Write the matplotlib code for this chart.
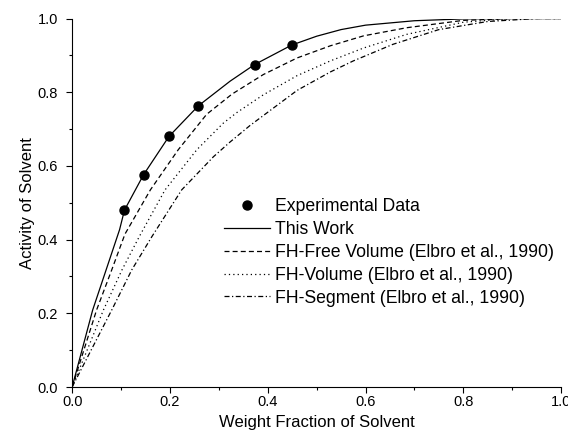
import matplotlib
matplotlib.use("Agg")
import matplotlib.pyplot as plt
from matplotlib.ticker import MultipleLocator

plt.rcParams['font.family'] = ['Liberation Sans', 'DejaVu Sans']

# experimental points
expX = [0.107, 0.146, 0.198, 0.258, 0.373, 0.449]
expY = [0.481, 0.576, 0.680, 0.763, 0.873, 0.927]

# This Work
workX = [0, 0.042, 0.0695, 0.097, 0.107, 0.146, 0.198, 0.258, 0.323, 0.373, 0.449, 0.50, 0.55, 0.60, 0.70, 0.80, 0.90, 1.0]
workY = [0, 0.209, 0.318, 0.427, 0.480, 0.576, 0.680, 0.763, 0.830, 0.875, 0.928, 0.952, 0.970, 0.982, 0.994, 0.999, 1.0, 1.0]

# FH-Free Volume
freeX = [0, 0.050, 0.081, 0.108, 0.160, 0.217, 0.275, 0.327, 0.391, 0.460, 0.528, 0.596, 0.684, 0.80, 0.90, 1.0]
freeY = [0, 0.209, 0.318, 0.415, 0.535, 0.644, 0.740, 0.795, 0.848, 0.893, 0.926, 0.953, 0.975, 0.995, 1.0, 1.0]

# FH-Volume
volX = [0, 0.064, 0.102, 0.138, 0.190, 0.255, 0.309, 0.337, 0.391, 0.460, 0.528, 0.596, 0.684, 0.80, 0.90, 1.0]
volY = [0, 0.209, 0.318, 0.410, 0.535, 0.644, 0.716, 0.745, 0.793, 0.845, 0.885, 0.920, 0.957, 0.990, 1.0, 1.0]

# FH-Segment
segX = [0, 0.081, 0.122, 0.163, 0.224, 0.289, 0.323, 0.364, 0.460, 0.528, 0.575, 0.656, 0.75, 0.85, 0.95, 1.0]
segY = [0, 0.209, 0.318, 0.408, 0.535, 0.625, 0.665, 0.710, 0.805, 0.855, 0.885, 0.930, 0.970, 0.992, 1.0, 1.0]

labels = ["Experimental Data", "This Work",
          "FH-Free Volume (Elbro et al., 1990)",
          "FH-Volume (Elbro et al., 1990)",
          "FH-Segment (Elbro et al., 1990)"]

fig = plt.figure(figsize=(5.68, 4.41), dpi=100)
ax = fig.add_axes([0.127, 0.1224, 0.861, 0.8356])

lw = 0.9
ax.plot(expX, expY, 'o', color='black', markersize=6.5, label=labels[0], zorder=5)
ax.plot(workX, workY, '-', color='black', lw=lw, label=labels[1])
ax.plot(freeX, freeY, color='black', lw=lw, dashes=(4, 2.5), label=labels[2])
ax.plot(volX, volY, color='black', lw=lw, dashes=(1, 2.5), label=labels[3])
ax.plot(segX, segY, color='black', lw=lw, dashes=(4, 2, 1, 2), label=labels[4])

ax.set_xlim(0, 1)
ax.set_ylim(0, 1)
ax.xaxis.set_major_locator(MultipleLocator(0.2))
ax.xaxis.set_minor_locator(MultipleLocator(0.1))
ax.yaxis.set_major_locator(MultipleLocator(0.2))
ax.yaxis.set_minor_locator(MultipleLocator(0.1))
ax.xaxis.set_major_formatter(plt.FormatStrFormatter('%.1f'))
ax.yaxis.set_major_formatter(plt.FormatStrFormatter('%.1f'))
ax.tick_params(which='major', direction='out', length=4.3, width=0.8, labelsize=10.5)
ax.tick_params(which='minor', direction='out', length=2.5, width=0.8)
ax.tick_params(axis='x', which='major', pad=1.5)
ax.tick_params(axis='y', which='major', pad=6)
ax.spines['top'].set_visible(False)
ax.spines['right'].set_visible(False)

ax.set_xlabel("Weight Fraction of Solvent", fontsize=12, labelpad=4)
ax.set_ylabel("Activity of Solvent", fontsize=12, labelpad=2)

ax.legend(loc='upper left', bbox_to_anchor=(0.311, 0.512), frameon=False,
          fontsize=12.7, handlelength=2.6, handletextpad=0.25,
          labelspacing=0.33, borderpad=0, borderaxespad=0, numpoints=1)

plt.savefig("out.png", dpi=100)
